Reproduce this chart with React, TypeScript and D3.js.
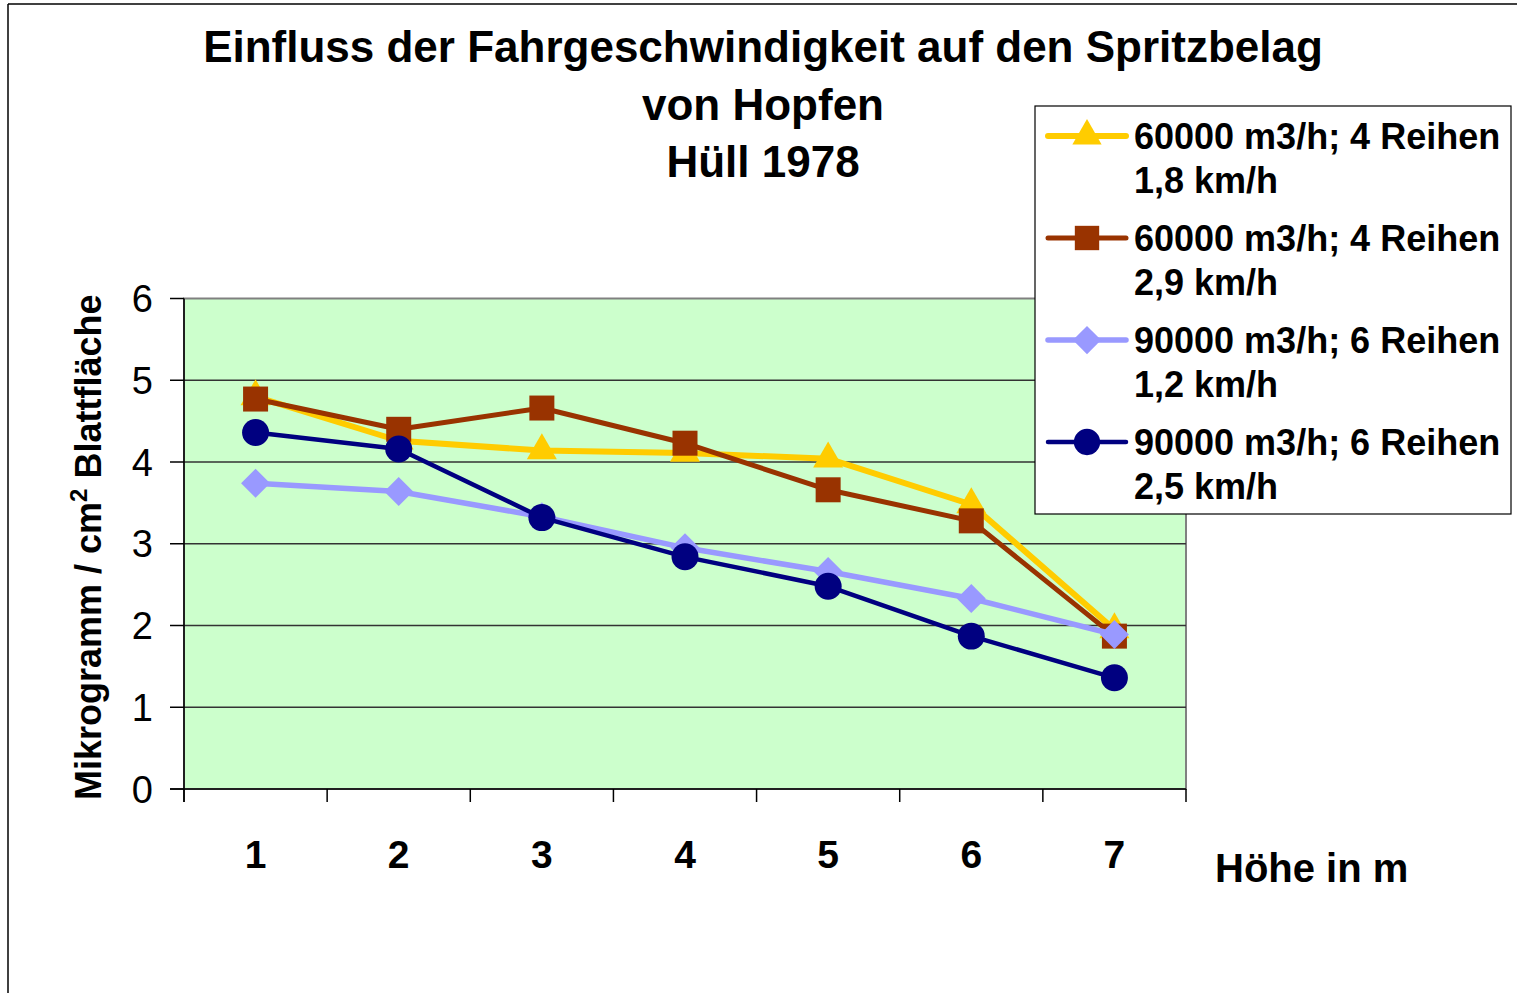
import React from "react";
import * as d3 from "d3";

const categories = ["1", "2", "3", "4", "5", "6", "7"];
const yTicks = [0, 1, 2, 3, 4, 5, 6];

const series1 = [4.8, 4.26, 4.14, 4.11, 4.04, 3.48, 1.95];
const series2 = [4.77, 4.4, 4.66, 4.23, 3.66, 3.28, 1.87];
const series3 = [3.74, 3.64, 3.33, 2.95, 2.66, 2.33, 1.89];
const series4 = [4.36, 4.16, 3.32, 2.84, 2.48, 1.87, 1.36];

const seriesNames1 = ["60000 m3/h; 4 Reihen", "60000 m3/h; 4 Reihen", "90000 m3/h; 6 Reihen", "90000 m3/h; 6 Reihen"];
const seriesNames2 = ["1,8 km/h", "2,9 km/h", "1,2 km/h", "2,5 km/h"];

const titleLines = ["Einfluss der Fahrgeschwindigkeit auf den Spritzbelag", "von Hopfen", "Hüll 1978"];

type S = { values: number[]; color: string; width: number; symbol: d3.SymbolType; size: number; rotate: number };

const SERIES: S[] = [
  { values: series1, color: "#FFCC00", width: 6, symbol: d3.symbolTriangle, size: 390, rotate: 0 },
  { values: series2, color: "#993300", width: 5, symbol: d3.symbolSquare, size: 625, rotate: 0 },
  { values: series3, color: "#9999FF", width: 5.5, symbol: d3.symbolSquare, size: 420, rotate: 45 },
  { values: series4, color: "#000080", width: 4.5, symbol: d3.symbolCircle, size: 572, rotate: 0 },
];

const FONT = "'Liberation Sans', Arial, sans-serif";

export default function App() {
  const W = 1517, H = 993;
  const left = 184, right = 1186, top = 298.5, bottom = 789;
  const x = d3.scaleBand<string>().domain(categories).range([left, right]);
  const y = d3.scaleLinear().domain([0, 6]).range([bottom, top]);
  const cx = (c: string) => (x(c) as number) + x.bandwidth() / 2;
  const line = d3.line<number>().x((_, i) => cx(categories[i])).y((v) => y(v));
  const boundaries = categories.map((c) => x(c) as number).concat([right]);

  return (
    <svg width={W} height={H} style={{ position: "absolute", left: 0, top: 0, display: "block", background: "#fff" }} fontFamily={FONT}>
      {/* outer frame */}
      <line x1={8} y1={4} x2={W} y2={4} stroke="#000" strokeWidth={1.5} />
      <line x1={8} y1={4} x2={8} y2={H} stroke="#000" strokeWidth={1.5} />

      {/* title */}
      {titleLines.map((t, i) => (
        <text key={i} x={763} y={62 + i * 57.5} textAnchor="middle" fontSize={44} fontWeight="bold" fill="#000">{t}</text>
      ))}

      {/* plot area */}
      <rect x={left} y={top} width={right - left} height={bottom - top} fill="#CCFFCC" stroke="#808080" strokeWidth={2} />
      {yTicks.filter((t) => t > 0 && t < 6).map((t) => (
        <line key={t} x1={left} x2={right} y1={y(t)} y2={y(t)} stroke="#333" strokeWidth={1.3} />
      ))}
      {/* axes */}
      <line x1={left} x2={left} y1={top} y2={bottom + 13} stroke="#000" strokeWidth={1.5} />
      <line x1={170} x2={right} y1={bottom} y2={bottom} stroke="#000" strokeWidth={1.5} />
      {yTicks.map((t) => (
        <g key={t}>
          <line x1={170} x2={left} y1={y(t)} y2={y(t)} stroke="#000" strokeWidth={1.5} />
          <text x={153} y={y(t) + 13.5} textAnchor="end" fontSize={38} fill="#000">{t}</text>
        </g>
      ))}
      {boundaries.map((b, i) => (
        <line key={i} x1={b} x2={b} y1={bottom} y2={bottom + 13} stroke="#000" strokeWidth={1.5} />
      ))}
      {categories.map((c) => (
        <text key={c} x={cx(c)} y={868} textAnchor="middle" fontSize={39} fontWeight="bold" fill="#000">{c}</text>
      ))}
      <text x={1215} y={882} fontSize={40} fontWeight="bold" fill="#000">Höhe in m</text>
      <text transform="translate(101,800) rotate(-90)" fontSize={36} fontWeight="bold" fill="#000">
        Mikrogramm / cm<tspan dy={-14} fontSize={24}>2</tspan><tspan dy={14}> Blattfläche</tspan>
      </text>

      {/* series */}
      {SERIES.map((s, si) => (
        <g key={si}>
          <path d={line(s.values) || ""} fill="none" stroke={s.color} strokeWidth={s.width} strokeLinejoin="round" />
          {s.values.map((v, i) => (
            <path key={i} d={d3.symbol(s.symbol, s.size)() || ""} fill={s.color}
              transform={`translate(${cx(categories[i])},${y(v)}) rotate(${s.rotate})`} />
          ))}
        </g>
      ))}

      {/* legend */}
      <rect x={1035} y={106} width={476} height={408} fill="#fff" stroke="#000" strokeWidth={1.2} />
      {SERIES.map((s, si) => {
        const ly = 136 + si * 102;
        return (
          <g key={si}>
            <line x1={1048} x2={1126} y1={ly} y2={ly} stroke={s.color} strokeWidth={s.width} strokeLinecap="round" />
            <path d={d3.symbol(s.symbol, s.size * 0.95)() || ""} fill={s.color} transform={`translate(1087,${ly}) rotate(${s.rotate})`} />
            <text x={1134} y={ly + 12.5} fontSize={36} fontWeight="bold" fill="#000">{seriesNames1[si]}</text>
            <text x={1134} y={ly + 56.5} fontSize={36} fontWeight="bold" fill="#000">{seriesNames2[si]}</text>
          </g>
        );
      })}
    </svg>
  );
}
